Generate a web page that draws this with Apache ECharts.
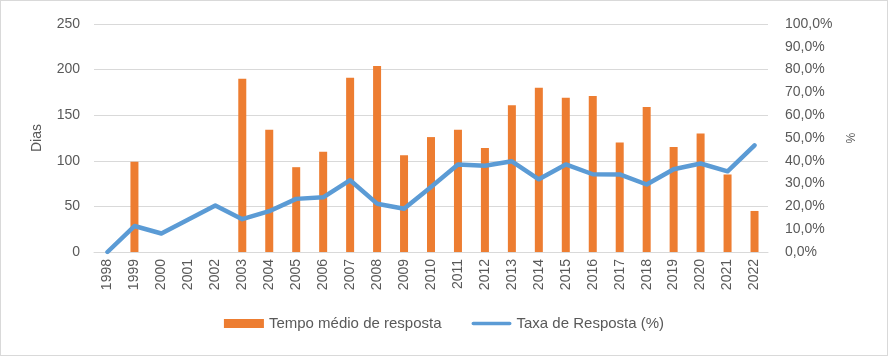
<!DOCTYPE html>
<html><head><meta charset="utf-8">
<script src="https://cdn.jsdelivr.net/npm/echarts@6/dist/echarts.min.js"></script>
<style>html,body{margin:0;padding:0;background:#fff}#c{width:886px;height:354px;border:1px solid #d9d9d9}</style>
</head><body><div id="c"></div>
<script>
const categories = ['1998','1999','2000','2001','2002','2003','2004','2005','2006','2007','2008','2009','2010','2011','2012','2013','2014','2015','2016','2017','2018','2019','2020','2021','2022'];
const tempoMedio = [null,99,null,null,null,190,134,93,110,191,204,106,126,134,114,161,180,169,171,120,159,115,130,85,45];
const taxaResposta = [0,11.4,8.1,14.2,20.4,14.4,17.9,23.3,24,31.5,21.2,19,28.5,38.4,37.8,39.8,31.9,38.4,34.1,34,29.6,36.3,38.8,35.4,46.8];
const leftTicks = [0,50,100,150,200,250];
const rightTicks = [0,10,20,30,40,50,60,70,80,90,100];

const txt = '#595959';
const font = 'Liberation Sans';
const chart = echarts.init(document.getElementById('c'));
chart.setOption({
  animation:false,
  textStyle:{fontFamily:font},
  grid:{left:93,right:119,top:23,bottom:103},
  legend:{
    bottom:19,left:'center',itemWidth:40,itemHeight:9,itemGap:30,
    textStyle:{color:txt,fontSize:15,fontFamily:font},
    data:[{name:'Tempo médio de resposta',icon:'rect'},
          {name:'Taxa de Resposta (%)',icon:'path://M2,0H42A2,2 0 0 1 42,4H2A2,2 0 0 1 2,0Z'}]
  },
  xAxis:{type:'category',data:categories,boundaryGap:true,
    axisLine:{lineStyle:{color:'#d9d9d9',width:1}},axisTick:{show:false},
    axisLabel:{rotate:90,color:txt,fontSize:14,fontFamily:font,margin:7,interval:0}},
  yAxis:[
    {type:'value',min:leftTicks[0],max:leftTicks[leftTicks.length-1],interval:50,
     name:'Dias',nameLocation:'middle',nameGap:50,nameRotate:90,
     nameTextStyle:{color:txt,fontSize:14,fontFamily:font},
     axisLabel:{color:txt,fontSize:14,fontFamily:font,margin:14},
     axisLine:{show:false},axisTick:{show:false},
     splitLine:{lineStyle:{color:'#d9d9d9',width:1}}},
    {type:'value',min:rightTicks[0],max:rightTicks[rightTicks.length-1],interval:10,
     name:'%',nameLocation:'middle',nameGap:75,nameRotate:-90,
     nameTextStyle:{color:txt,fontSize:12,fontFamily:font},
     axisLabel:{color:txt,fontSize:14,fontFamily:font,margin:17,
       formatter:v=>v.toFixed(1).replace('.',',')+'%'},
     axisLine:{show:false},axisTick:{show:false},splitLine:{show:false}}
  ],
  series:[
    {name:'Tempo médio de resposta',type:'bar',data:tempoMedio,barWidth:8,
     itemStyle:{color:'#ED7D31'}},
    {name:'Taxa de Resposta (%)',type:'line',yAxisIndex:1,data:taxaResposta,
     symbol:'none',lineStyle:{color:'#5B9BD5',width:4.5,cap:'round',join:'round'},
     itemStyle:{color:'#5B9BD5'}}
  ]
});
</script></body></html>
